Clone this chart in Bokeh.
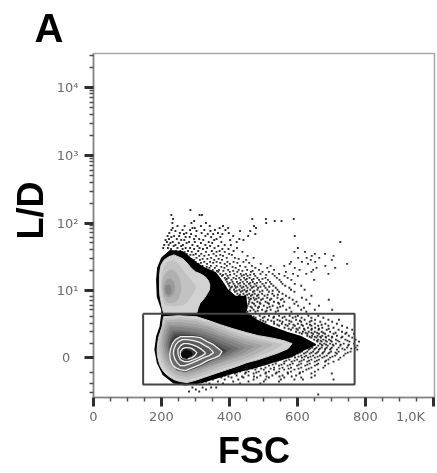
from bokeh.plotting import figure
from bokeh.models import FixedTicker, Range1d
from bokeh.embed import file_html
from bokeh.resources import INLINE

# L/D is stored in display channels of the biexponential axis
LD_MAJOR = [40, 107, 175, 243, 311]
LD_LABELS = ["0\u00a0\u00a0", "10\u00b9", "10\u00b2", "10\u00b3", "10\u2074"]
LD_MINOR = [5, 14, 25, 54, 66, 74, 81, 88, 92, 97, 101,
            127, 139, 148, 155, 160, 165, 169, 172,
            195, 207, 216, 223, 228, 233, 237, 240,
            263, 275, 284, 291, 296, 301, 305, 308, 331, 343]
FSC_MAJOR = [0, 200, 400, 600, 800, 1000]
FSC_LABELS = ["0", "200", "400", "600", "800", "1,0K" + "\u00a0" * 3]
FSC_MINOR = [50, 100, 150, 250, 300, 350, 450, 500, 550, 650, 700, 750, 850, 900, 950]

GATE_FSC = [146, 768, 768, 146, 146]
GATE_LD = [84, 84, 13, 13, 84]

OUTER_FSC = [226,260,280,300,324,358,378,393,417,447,449,447,481,520,569,608,652,618,579,520,471,412,363,314,270,236,206,189,182,187,197,202,202,189,187,190,202]
OUTER_LD = [147,146,141,135,130,125,116,108,101,101,93,85,77,71,65,61,53,48,41,35,30,25,20,15,13,15,23,35,48,61,71,83,88,101,118,130,140]

UPPER_LEVELS = [
    ("#d2d2d2", [221,236,251,263,275,287,300,315,329,338,342,341,336,325,314,308,304,255,206,202,198,195,194,194,196,199,208],
                [141,143,141,139,135,130,126,124,121,117,113,108,105,99,95,90,85,85,85,90,97,103,112,121,128,133,138]),
    ("#c2c2c2", [216,232,246,256,265,278,290,298,300,294,285,275,265,238,211,205,202,201,202,208],
                [135,137,135,131,126,121,116,113,110,105,101,96,93,92,93,98,105,115,123,131]),
    ("#b0b0b0", [216,230,241,250,255,257,255,250,241,228,216,208,204,204,206],
                [126,128,126,121,116,110,105,100,96,95,96,101,108,115,120]),
    ("#9c9c9c", [216,226,234,238,238,233,226,218,211,208,209],
                [118,119,116,112,108,103,101,101,103,108,113]),
    ("#868686", [214,222,228,228,221,214,212], [112,113,110,105,103,105,108]),
]
LOWER_LEVELS = [
    ("#d2d2d2", [206,250,304,340,373,410,451,485,520,560,584,572,545,520,485,451,420,393,358,324,298,275,254,236,218,206,197,192,188,187,189,192,197,202],
                [81,82,81,77,73,69,65,62,60,57,54,49,45,42,38,35,31,28,24,20,17,15,16,18,22,26,31,36,42,48,55,61,66,71]),
    ("#c2c2c2", [210,255,304,340,373,410,445,480,520,555,530,500,465,430,393,358,324,298,275,254,238,222,210,201,195,192,194,198,204],
                [79,80,78,75,71,66,62,59,56,53,48,44,39,35,31,27,23,20,18,19,21,25,30,36,43,50,58,66,73]),
    ("#b2b2b2", [214,255,304,340,373,410,445,485,525,500,465,430,393,358,324,298,275,256,240,225,213,205,200,198,200,204,209],
                [77,78,76,72,68,63,59,56,53,48,42,38,34,30,26,23,21,22,24,28,33,39,46,52,60,68,73]),
    ("#a2a2a2", [218,255,304,340,373,410,450,495,465,430,393,358,324,298,275,258,243,228,217,209,205,204,206,212],
                [75,75,73,70,65,60,56,52,46,41,37,33,29,26,24,25,27,31,36,42,49,55,63,70]),
    ("#929292", [222,255,304,340,373,410,445,470,440,410,378,345,310,285,265,248,233,221,213,209,211,216],
                [72,72,70,67,62,58,53,51,45,41,37,33,29,27,27,28,33,39,45,52,60,67]),
    ("#828282", [226,258,304,340,373,410,445,415,385,350,315,290,268,250,236,225,217,214,216,221],
                [70,70,68,64,60,55,50,44,40,36,31,29,28,30,34,40,47,53,60,66]),
    ("#707070", [230,258,300,335,370,400,425,400,370,338,308,285,266,250,238,228,221,219,222],
                [67,67,65,62,57,53,49,44,40,36,32,30,29,31,35,41,47,54,61]),
    ("#5e5e5e", [235,262,300,335,370,405,385,355,325,298,275,255,241,231,225,224,228],
                [65,65,63,59,54,49,44,40,36,32,29,30,34,40,47,54,60]),
    ("#4c4c4c", [238,265,300,335,368,392,370,340,310,285,265,248,236,227,224,229],
                [63,63,62,57,52,47,42,38,34,29,27,29,35,42,50,58]),
    ("#3c3c3c", [240,270,314,345,385,360,314,270,245,230,225,230],
                [61,62,61,55,47,40,32,26,28,37,47,56]),
]
CONTOURS = [
    ("#6a6a6a", [226,232,241,255,270,292,314,335,353,368,378,370,358,335,314,292,270,254,241,232,226,224],
                [48,54,58,61,61,61,60,56,53,49,46,42,40,37,33,30,27,28,30,33,38,43]),
    ("#5a5a5a", [236,242,250,262,275,295,314,328,339,348,353,340,324,305,285,268,255,246,239,235],
                [48,53,56,58,58,57,55,52,50,47,45,42,40,37,34,32,32,35,39,44]),
    ("#4a4a4a", [248,256,265,278,290,305,319,326,329,320,309,295,280,267,255,249],
                [48,52,54,54,53,51,48,46,44,42,40,38,36,36,38,43]),
    ("#383838", [255,262,270,280,290,298,304,298,290,280,270,262,257],
                [46,49,50,50,49,47,45,42,40,39,39,40,41]),
]
CORE_FSC = [258,270,287,290,275,262]
CORE_LD = [44,48,46,43,39,40]

# events outside the dense contours, read row by row: (L/D channel, FSC values)
EVENT_ROWS = [
    (188,[285]),(183,[229,312,319]),(179,[234,467,507,589]),(177,[296,533,553]),(175,[232,288,331,508]),
    (172,[247,268,316,342,381,472]),(170,[233,291,298,371,396,478]),(168,[229,262,284,326,357,388]),
    (167,[241,303,344,431,461]),(165,[223,254,273,318,366,398]),(164,[266,287,336,352,379,476]),
    (162,[218,237,252,301,329,411,455,592]),(161,[229,271,283,346,373]),(159,[222,245,296,311,362,429]),
    (158,[212,258,267,323,355,402,441]),(156,[216,233,281,298,339,376,421,726]),(155,[226,251,274,316,349]),
    (153,[208,221,241,263,291,329,386,404]),(152,[236,258,306,343,367]),(150,[205,219,247,271,284,312,334,356,422,601]),
    (149,[228,262,296,322,379,397]),(147,[243,255,278,308,348,371,412]),(146,[268,289,331,362,386,438,591,622]),
    (144,[262,274,301,317,353,399,651,681]),(143,[285,294,339,373,407]),(142,[271,311,326,361,381,453,642,706]),
    (140,[279,303,346,392,416,471,602,627,664]),(139,[288,321,335,368,427]),(138,[296,313,355,378,449,639,701]),
    (136,[301,326,343,362,394,412,441,581,613,652]),(135,[316,352,373,423,458]),(134,[309,334,386,401,492,577,631,746]),
    (132,[321,345,362,392,431,466,521,561,682]),(131,[333,376,409,447]),(130,[341,357,385,418,476,511,592,656,711]),
    (128,[351,369,396,427,452,487,531,606,646]),(127,[363,382,411,438,468]),(126,[367,401,423,463,497,516,566,641]),
    (124,[373,389,414,433,449,472,491,527,546,587,626,691]),(123,[381,402,442,461,508]),(122,[378,394,421,436,453,476,533,562,601]),
    (120,[386,397,412,429,443,459,482,506,539,571]),(119,[392,419,451,471,497]),(118,[389,406,433,447,466,487,513,547,582,649]),
    (116,[393,409,422,439,452,469,491,519,552]),(115,[401,431,461,481,507]),(114,[396,412,426,443,457,474,497,523,556,592]),
    (112,[399,416,432,449,462,479,502,529,564,611]),(111,[407,423,441,471,491,517]),(110,[403,418,436,453,466,484,506,536,576]),
    (108,[401,413,429,444,461,482,511,541,581,621]),(107,[421,438,452,473,497,527]),(106,[397,416,433,449,469,489,516,546,591]),
    (104,[402,423,441,458,474,496,526,556]),(103,[431,452,467,485,512,542]),(102,[408,428,446,463,481,503,531,566,641]),
    (100,[456,471,486,511,541,576,613]),(99,[463,479,498,523,556]),(98,[459,474,493,519,551,586,626,692]),
    (96,[458,482,506,531,561,597]),(95,[467,489,512,543]),(94,[456,472,491,516,546,591,636]),
    (92,[453,476,501,527,557,602,663]),(91,[462,487,518,549]),(90,[451,466,484,511,541,577,619]),
    (88,[449,471,496,521,567,611,651,702]),(87,[461,483,509,543]),(86,[453,476,506,536,582,626]),
    (82,[463,489,516,546,577,601,632,661]),(81,[471,503,531,562,594]),(80,[477,498,529,556,586,612,641,676]),
    (78,[491,513,541,567,596,621,652,691,722]),(77,[499,523,548,576,607,641]),(76,[506,531,556,582,611,636,667,702]),
    (74,[531,554,576,601,627,651,682,716]),(73,[541,565,588,612,637,671]),(72,[546,571,592,616,641,661,691,731]),
    (70,[562,586,606,631,652,673,706,746]),(69,[574,597,619,642,663,692]),(68,[581,601,621,641,662,686,721,761]),
    (66,[596,616,633,651,671,696,731]),(65,[606,624,641,658,676,712,744]),(64,[613,629,646,663,681,706,741,766]),
    (62,[629,643,659,673,691,716,751]),(61,[636,651,667,683,702,732]),(60,[641,656,669,684,701,729,761]),
    (58,[649,661,676,693,713,741,771]),(57,[657,668,683,698,718,747]),(56,[659,671,686,701,723,753,781]),
    (54,[666,679,696,713,736,766]),(53,[671,684,704,727,751]),(52,[661,673,689,706,726,749,776]),
    (50,[643,656,671,686,701,721,746,771]),(49,[637,652,666,682,698,732,758]),(48,[633,649,663,681,696,716,739,776]),
    (46,[613,629,646,661,679,699,721,756]),(45,[607,624,641,657,675,694,712,748]),(44,[601,619,636,653,673,691,716,741]),
    (42,[591,611,626,646,666,686,711,736]),(41,[583,603,621,638,659,679,703]),(40,[573,593,613,631,651,673,696,726]),
    (38,[551,576,599,619,641,663,691,721]),(37,[543,567,591,612,634,657,684]),(36,[536,561,583,606,629,651,681,706]),
    (34,[511,536,561,586,611,636,661,691]),(33,[503,527,553,578,604,629,657]),(32,[491,516,546,571,599,623,651,681]),
    (30,[479,506,531,556,581,611,641,676]),(29,[467,493,521,547,574,603,633]),(28,[451,476,501,531,561,591,626,661]),
    (26,[431,456,486,516,546,581,616,651]),(25,[422,448,479,507,539,571,607]),(24,[416,446,471,506,536,572,606,641,701]),
    (22,[386,421,456,491,526,556,596,651]),(21,[397,437,472,509,547,583]),(20,[376,406,441,481,516,561,611,641]),
    (18,[351,386,426,471,506,551,591,616,706]),(16,[331,366,411,456,501,546]),
    (14,[341,381,431,491]),(10,[291,321,346,361]),(8,[301,331]),(6,[281,311]),(3,[661]),
]
event_ld = [row[0] for row in EVENT_ROWS for _ in row[1]]
event_fsc = [f for row in EVENT_ROWS for f in row[1]]

AXIS_GRAY = "#808080"
TICK_DARK = "#2e2e2e"
LABEL_GRAY = "#6a6a6a"

p = figure(width=437, height=473, output_backend="svg", toolbar_location=None,
           x_range=Range1d(0, 1003), y_range=Range1d(0, 345),
           min_border_left=93, min_border_right=3, min_border_top=53, min_border_bottom=75,
           tools="")
p.grid.visible = False
p.outline_line_color = "#a8a8a8"
p.outline_line_width = 1.5

p.title.text = "A"
p.title.text_font = "Liberation Sans"
p.title.text_font_style = "bold"
p.title.text_font_size = "40px"
p.title.text_color = "#000000"
p.title.offset = -59
p.title.standoff = 7

p.scatter(event_fsc, event_ld, marker="square", size=1.9, color="#1a1a1a", alpha=0.9, line_width=0)
p.patch(OUTER_FSC, OUTER_LD, fill_color="#000000", line_color="#000000", line_width=2, line_join="round")
for col, xs, ys in UPPER_LEVELS + LOWER_LEVELS:
    p.patch(xs, ys, fill_color=col, line_color=col, line_width=1, line_join="round")
for col, xs, ys in CONTOURS:
    p.patch(xs, ys, fill_color=col, line_color="#f0f0f0", line_width=1.3, line_join="round")
p.patch(CORE_FSC, CORE_LD, color="#0a0a0a")
p.line(GATE_FSC, GATE_LD, line_color="#444444", line_width=2)

xa, ya = p.xaxis[0], p.yaxis[0]
xa.ticker = FixedTicker(ticks=FSC_MAJOR, minor_ticks=FSC_MINOR)
ya.ticker = FixedTicker(ticks=LD_MAJOR, minor_ticks=LD_MINOR)
xa.major_label_overrides = dict(zip(FSC_MAJOR, FSC_LABELS))
ya.major_label_overrides = dict(zip(LD_MAJOR, LD_LABELS))
for ax in (xa, ya):
    ax.axis_line_color = AXIS_GRAY
    ax.axis_line_width = 1.5
    ax.major_tick_line_color = TICK_DARK
    ax.major_tick_line_width = 3
    ax.major_tick_in = 0
    ax.major_tick_out = 9
    ax.minor_tick_line_color = "#505050"
    ax.minor_tick_line_width = 1.5
    ax.minor_tick_in = 0
    ax.minor_tick_out = 4
    ax.major_label_text_font = "DejaVu Sans"
    ax.major_label_text_font_size = "13px"
    ax.major_label_text_color = LABEL_GRAY
    ax.axis_label_text_font = "Liberation Sans"
    ax.axis_label_text_font_style = "bold"
    ax.axis_label_text_font_size = "36px"
    ax.axis_label_text_color = "#000000"
xa.major_label_standoff = 2
ya.major_label_standoff = 6
ya.major_label_orientation = "horizontal"
xa.axis_label = "FSC" + "\u00a0\u00a0"
ya.axis_label = "\u00a0\u00a0\u00a0L/D"
xa.axis_label_standoff = 3
ya.axis_label_standoff = 3
p.styles = {"filter": "blur(0.7px)"}

open("out.html", "w").write(file_html(p, INLINE))
